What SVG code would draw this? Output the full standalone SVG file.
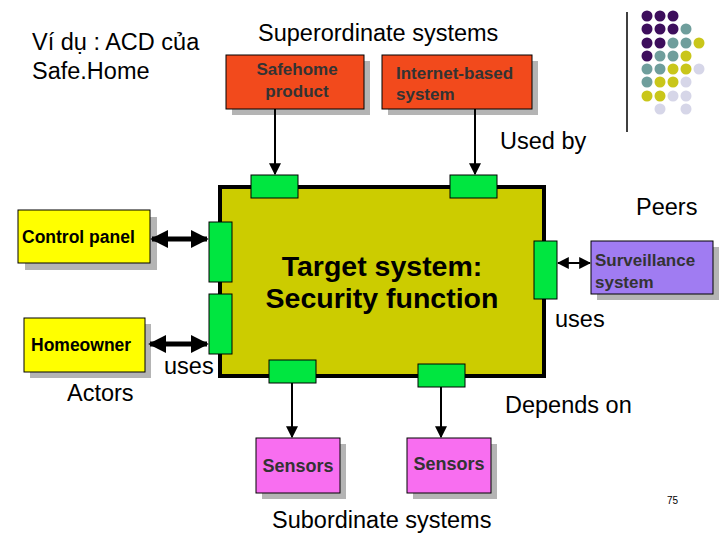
<svg xmlns="http://www.w3.org/2000/svg" width="720" height="540" viewBox="0 0 720 540">
<style>
text{font-family:"Liberation Sans",Arial,sans-serif}
.b{font-weight:bold}
.sh{fill:#b4b4b4}
.port{fill:#00e640;stroke:#000;stroke-width:1}
.ln{stroke:#000;stroke-width:2;fill:none}
.dl{stroke:#000;stroke-width:5;fill:none}
</style>
<defs>
<marker id="a" viewBox="0 0 10 10" refX="9" refY="5" markerWidth="6" markerHeight="6" orient="auto-start-reverse"><path d="M0,0L10,5L0,10z"/></marker>
<marker id="ab" viewBox="0 0 10 10" refX="9" refY="5" markerWidth="3.6" markerHeight="3.6" orient="auto-start-reverse"><path d="M0,0L10,5L0,10z"/></marker>
</defs>
<rect width="720" height="540" fill="#fff"/>
<g id="deco">
<line x1="627" y1="12" x2="627" y2="132" stroke="#000" stroke-width="1.5"/>
<g fill="#3d0e5c"><circle cx="647" cy="16" r="5.5"/><circle cx="660" cy="16" r="5.5"/><circle cx="673" cy="16" r="5.5"/><circle cx="647" cy="29" r="5.5"/><circle cx="660" cy="29" r="5.5"/><circle cx="673" cy="29" r="5.5"/><circle cx="647" cy="43" r="5.5"/><circle cx="660" cy="43" r="5.5"/><circle cx="647" cy="56" r="5.5"/></g>
<g fill="#6f9e9c"><circle cx="686" cy="29" r="5.5"/><circle cx="673" cy="43" r="5.5"/><circle cx="686" cy="43" r="5.5"/><circle cx="660" cy="56" r="5.5"/><circle cx="673" cy="56" r="5.5"/><circle cx="647" cy="69" r="5.5"/><circle cx="660" cy="69" r="5.5"/><circle cx="647" cy="82" r="5.5"/></g>
<g fill="#c9c61a"><circle cx="699" cy="43" r="5.5"/><circle cx="686" cy="56" r="5.5"/><circle cx="673" cy="69" r="5.5"/><circle cx="686" cy="69" r="5.5"/><circle cx="660" cy="82" r="5.5"/><circle cx="673" cy="82" r="5.5"/><circle cx="647" cy="96" r="5.5"/><circle cx="660" cy="96" r="5.5"/></g>
<g fill="#d6d6e8"><circle cx="699" cy="69" r="5.5"/><circle cx="686" cy="82" r="5.5"/><circle cx="673" cy="96" r="5.5"/><circle cx="686" cy="96" r="5.5"/><circle cx="660" cy="109" r="5.5"/><circle cx="686" cy="109" r="5.5"/></g>
</g>
<text x="32" y="50" font-size="23.5">Ví dụ : ACD của</text>
<text x="32" y="79" font-size="23.5">Safe.Home</text>
<text x="258" y="41" font-size="23.5">Superordinate systems</text>
<text x="500" y="149" font-size="23.5">Used by</text>
<text x="636" y="215" font-size="23.5">Peers</text>
<text x="67" y="401" font-size="23.5">Actors</text>
<text x="164" y="374" font-size="23.5">uses</text>
<text x="555" y="327" font-size="23.5">uses</text>
<text x="505" y="413" font-size="23.5">Depends on</text>
<text x="272" y="528" font-size="23.5">Subordinate systems</text>
<text x="667" y="504" font-size="10">75</text>
<g id="target">
<rect x="220" y="187" width="324" height="189" fill="#cccc00" stroke="#000" stroke-width="4"/>
<text x="382" y="276" font-size="28.5" class="b" text-anchor="middle">Target system:</text>
<text x="382" y="308" font-size="28.5" class="b" text-anchor="middle">Security function</text>
</g>
<g id="ports">
<rect class="port" x="251" y="175" width="47" height="23"/>
<rect class="port" x="450" y="175" width="47" height="23"/>
<rect class="port" x="209" y="222" width="23" height="60"/>
<rect class="port" x="209" y="294" width="23" height="60"/>
<rect class="port" x="534" y="241" width="23" height="58"/>
<rect class="port" x="269" y="360" width="47" height="23"/>
<rect class="port" x="418" y="364" width="47" height="23"/>
</g>
<g id="safehome"><rect class="sh" x="232" y="61" width="138" height="54"/><rect x="226" y="55" width="138" height="54" fill="#f24a1c" stroke="#000"/><text x="297" y="75" font-size="17" class="b" fill="#333" text-anchor="middle">Safehome</text><text x="297" y="97" font-size="17" class="b" fill="#333" text-anchor="middle">product</text></g>
<g id="internet"><rect class="sh" x="388" y="61" width="150" height="54"/><rect x="382" y="55" width="150" height="54" fill="#f24a1c" stroke="#000"/><text x="396" y="79" font-size="17" class="b" fill="#333">Internet-based</text><text x="396" y="100" font-size="17" class="b" fill="#333">system</text></g>
<g id="control"><rect class="sh" x="25" y="217" width="132" height="53"/><rect x="18" y="210" width="132" height="53" fill="#ffff00" stroke="#000"/><text x="22" y="243" font-size="17.5" class="b">Control panel</text></g>
<g id="homeowner"><rect class="sh" x="30" y="324" width="121" height="54"/><rect x="24" y="318" width="121" height="54" fill="#ffff00" stroke="#000"/><text x="31" y="351" font-size="17.5" class="b">Homeowner</text></g>
<g id="surv"><rect class="sh" x="597" y="247" width="122" height="53"/><rect x="591" y="241" width="122" height="53" fill="#a07cf2" stroke="#000"/><text x="595" y="266" font-size="17" class="b" fill="#333">Surveillance</text><text x="595" y="288" font-size="17" class="b" fill="#333">system</text></g>
<g id="sensors1"><rect class="sh" x="262" y="444" width="84" height="55"/><rect x="256" y="438" width="84" height="55" fill="#f86ef0" stroke="#000"/><text x="298" y="472" font-size="18" class="b" fill="#333" text-anchor="middle">Sensors</text></g>
<g id="sensors2"><rect class="sh" x="413" y="444" width="84" height="55"/><rect x="407" y="438" width="84" height="55" fill="#f86ef0" stroke="#000"/><text x="449" y="470" font-size="18" class="b" fill="#333" text-anchor="middle">Sensors</text></g>
<g id="connectors">
<line class="ln" x1="275" y1="109" x2="275" y2="174" marker-end="url(#a)"/>
<line class="ln" x1="475" y1="109" x2="475" y2="174" marker-end="url(#a)"/>
<line class="dl" x1="152" y1="239" x2="207" y2="239" marker-start="url(#ab)" marker-end="url(#ab)"/>
<line class="dl" x1="150" y1="344" x2="207" y2="344" marker-start="url(#ab)" marker-end="url(#ab)"/>
<line class="ln" x1="558" y1="263" x2="590" y2="263" stroke-width="1.5" marker-start="url(#a)" marker-end="url(#a)"/>
<line class="ln" x1="292" y1="383" x2="292" y2="437" marker-end="url(#a)"/>
<line class="ln" x1="441" y1="387" x2="441" y2="437" marker-end="url(#a)"/>
</g>
</svg>
